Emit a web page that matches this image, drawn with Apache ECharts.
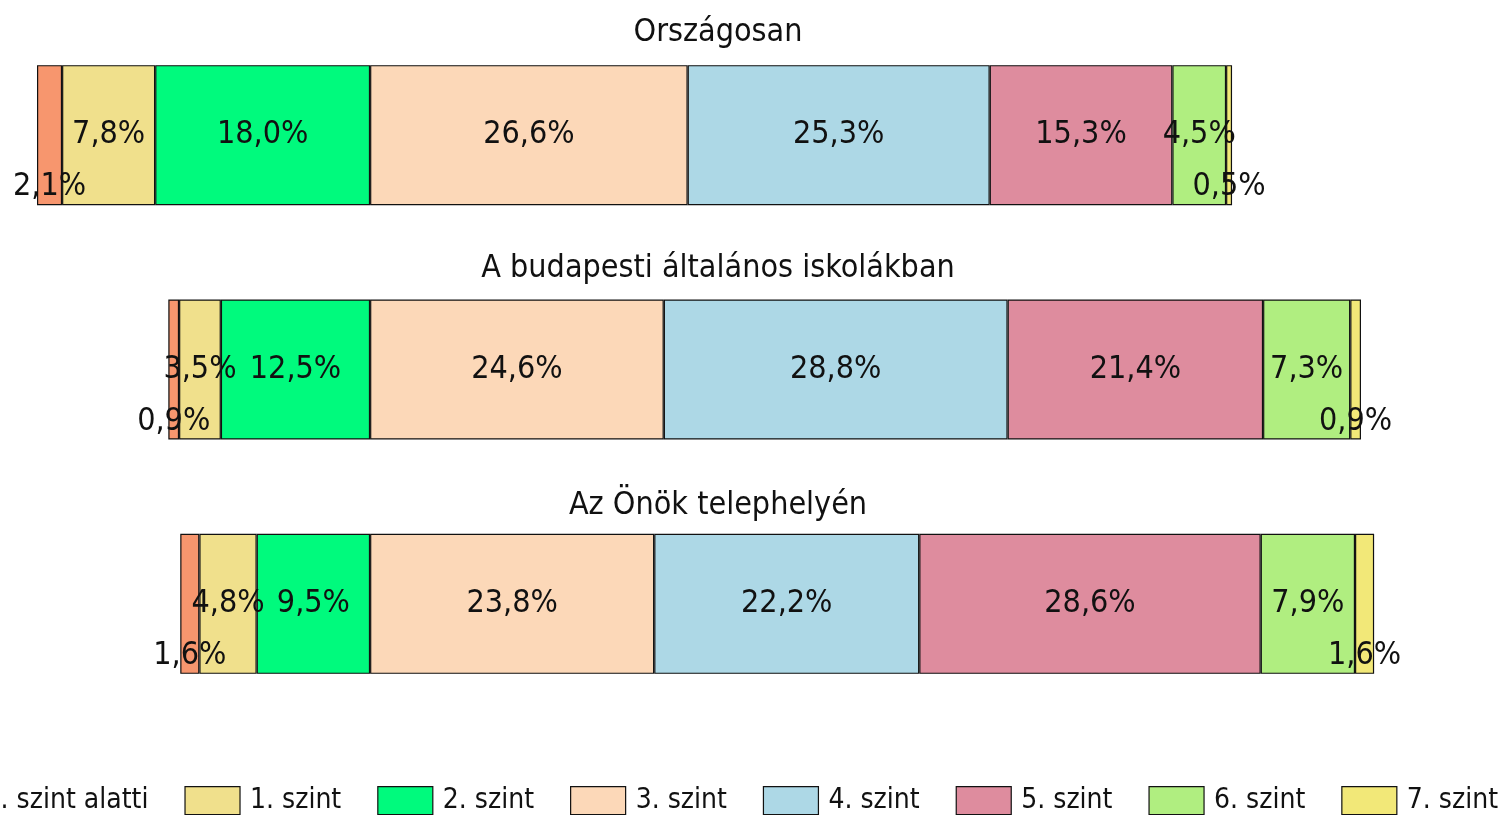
<!DOCTYPE html>
<html>
<head>
<meta charset="utf-8">
<script src="https://cdn.jsdelivr.net/npm/echarts@6/dist/echarts.min.js"></script>
<style>
  html, body { margin: 0; padding: 0; background: #fff; }
  #chart { width: 1506px; height: 815px; }
</style>
</head>
<body>
<div id="chart"></div>
<script>
// csoportok (sávok) és szintek
const groups = ['Országosan', 'A budapesti általános iskolákban', 'Az Önök telephelyén']
const levels = ['1. szint alatti', '1. szint', '2. szint', '3. szint', '4. szint', '5. szint', '6. szint', '7. szint']
const colors = ['#F7966E', '#F0E08C', '#00FA7D', '#FCD8B8', '#ADD8E6', '#DE8C9E', '#B0EE80', '#F2E878']

// százalékok szintenként, sávonként
const orszagos = [2.1, 7.8, 18.0, 26.6, 25.3, 15.3, 4.5, 0.5]
const budapest = [0.9, 3.5, 12.5, 24.6, 28.8, 21.4, 7.3, 0.9]
const telephely = [1.6, 4.8, 9.5, 23.8, 22.2, 28.6, 7.9, 1.6]
const rows = [orszagos, budapest, telephely]

const font = '"Liberation Sans Narrow", "Arial Narrow", "DejaVu Sans Condensed", sans-serif'

// a 2. és 3. szint határa egy vonalba kerül -> láthatatlan kitöltés balra
const leftSums = rows.map((r) => r[0] + r[1] + r[2])
const maxLeft = Math.max(...leftSums)
const pad = leftSums.map((s) => +(maxLeft - s).toFixed(2))

const fmt = (v) => v.toFixed(1).replace('.', ',') + '%'

const chart = echarts.init(document.getElementById('chart'))

const series = [
  {
    name: 'pad',
    type: 'bar',
    stack: 'total',
    barWidth: 140,
    silent: true,
    itemStyle: { color: 'transparent', borderWidth: 0 },
    data: pad
  }
]
levels.forEach((name, i) => {
  const small = i === 0 || i === levels.length - 1
  series.push({
    name: name,
    type: 'bar',
    stack: 'total',
    barWidth: 140,
    itemStyle: { color: colors[i], borderColor: '#111', borderWidth: 1.2 },
    label: {
      show: true,
      position: 'inside',
      offset: small ? [0, 52] : [0, 0],
      color: '#111',
      fontFamily: font,
      fontSize: 32,
      formatter: (p) => fmt(p.value)
    },
    data: rows.map((r) => r[i])
  })
})

const option = {
  animation: false,
  grid: { left: 37, right: 108, top: 18, bottom: 94 },
  xAxis: { type: 'value', min: 0, max: 114, show: false },
  yAxis: { type: 'category', data: groups, inverse: true, show: false },
  legend: {
    data: levels,
    left: -81,
    top: 786,
    padding: 0,
    width: 1700,
    itemWidth: 55,
    itemHeight: 28,
    itemGap: 36,
    icon: 'rect',
    itemStyle: { borderColor: '#111', borderWidth: 1.2 },
    textStyle: { fontFamily: font, fontSize: 28, color: '#111', padding: [0, 0, 0, 5] }
  },
  graphic: groups.map((g, i) => ({
    type: 'text',
    x: 718,
    y: [33, 269, 506][i],
    style: {
      text: g,
      font: '32px ' + font,
      fill: '#111',
      align: 'center',
      verticalAlign: 'middle',
      textAlign: 'center',
      textVerticalAlign: 'middle'
    }
  })),
  series: series
}

chart.setOption(option)
</script>
</body>
</html>
